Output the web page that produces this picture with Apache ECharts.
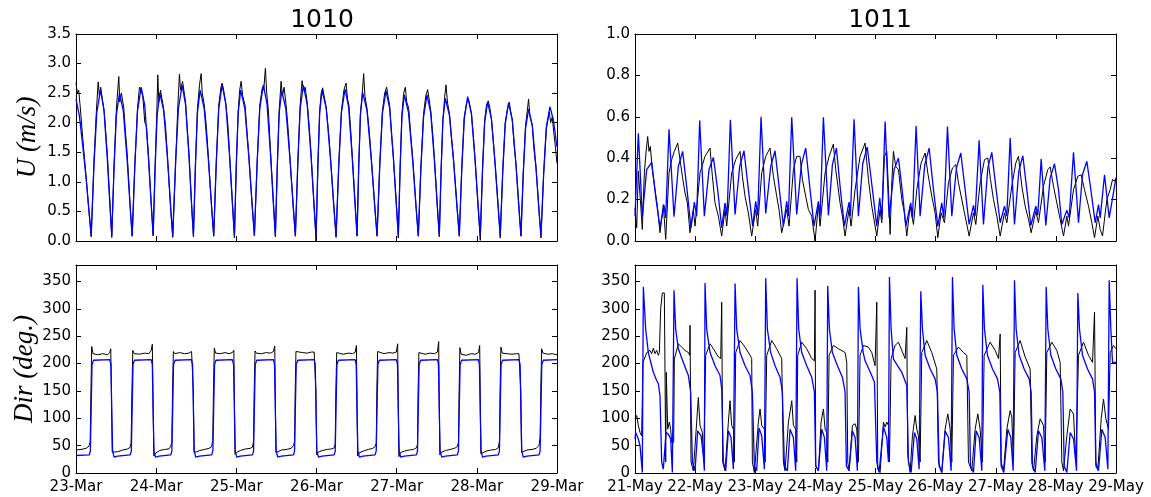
<!DOCTYPE html>
<html>
<head>
<meta charset="utf-8">
<script src="https://cdn.jsdelivr.net/npm/echarts@6/dist/echarts.min.js"></script>
<style>html,body{margin:0;padding:0;background:#fff}#c{width:1151px;height:497px}</style>
</head>
<body>
<div id="c"></div>
<script>
// ---------- tick labels ----------
var ticksMar = ['23-Mar','24-Mar','25-Mar','26-Mar','27-Mar','28-Mar','29-Mar'];
var ticksMay = ['21-May','22-May','23-May','24-May','25-May','26-May','27-May','28-May','29-May'];
var panelTitles = ['1010', '1011'];

// ---------- station 1010 : speed (hours since 23-Mar 00:00, m/s) ----------
var u1010Obs = [
[0,2.68],[0.4,2.50],[0.8,2.55],[1.3,2.25],[2.0,1.75],[3.0,1.1],[3.8,0.55],[4.55,0.07],
[5.38,1.35],[6.1,2.2],[6.64,2.69],[7.0,2.45],[7.4,2.6],[8.0,2.35],[8.5,2.15],[9.4,1.45],[10.2,0.6],[10.71,0.06],
[11.4,1.3],[12.1,2.25],[12.81,2.78],[13.1,2.35],[13.6,2.5],[14.3,2.25],[14.8,1.85],[15.3,1.5],[16.3,0.5],[16.82,0.08],
[17.63,1.3],[18.43,2.25],[19.0,2.60],[19.5,2.55],[20.0,2.45],[20.6,2.0],[21.1,1.95],[21.7,1.45],[22.56,0.6],[23.10,0.09],
[23.7,1.3],[24.2,2.2],[24.48,2.81],[24.8,2.35],[25.3,2.55],[26.2,2.25],[26.8,1.95],[27.4,1.4],[28.38,0.5],[28.96,0.06],
[29.81,1.3],[30.5,2.3],[30.97,2.82],[31.3,2.55],[31.9,2.7],[32.8,2.35],[33.3,1.9],[33.8,1.5],[34.65,0.55],[35.16,0.07],
[35.76,1.3],[36.36,2.25],[37.0,2.65],[37.46,2.83],[37.8,2.5],[38.4,2.3],[39.0,1.95],[39.6,1.45],[40.62,0.55],[41.23,0.08],
[41.99,1.32],[42.74,2.3],[43.4,2.6],[43.75,2.67],[44.2,2.55],[44.9,2.3],[45.5,1.95],[46.0,1.45],[46.88,0.6],[47.43,0.05],
[47.99,1.3],[48.56,2.2],[49.0,2.55],[49.43,2.70],[49.9,2.45],[50.6,2.3],[51.2,1.85],[51.8,1.4],[52.8,0.55],[53.41,0.09],
[54.22,1.3],[55.02,2.3],[55.8,2.6],[56.2,2.55],[56.70,2.92],[57.1,2.5],[57.6,2.2],[58.25,1.5],[59.15,0.6],[59.69,0.07],
[60.26,1.25],[60.82,2.2],[61.40,2.70],[61.8,2.45],[62.3,2.6],[62.9,2.3],[63.5,1.9],[64.0,1.45],[65.07,0.55],[65.68,0.08],
[66.4,1.3],[67.11,2.3],[67.68,2.71],[68.1,2.55],[68.6,2.6],[69.2,2.35],[69.8,1.95],[70.35,1.5],[71.3,0.55],[71.87,0.0],
[72.41,1.25],[72.95,2.2],[73.4,2.5],[73.85,2.59],[74.3,2.45],[74.9,2.25],[75.6,1.85],[76.2,1.4],[77.23,0.55],[77.86,0.06],
[78.67,1.3],[79.47,2.2],[80.2,2.55],[80.85,2.67],[81.3,2.4],[81.7,2.3],[82.2,1.9],[82.7,1.45],[83.6,0.6],[84.14,0.08],
[84.64,1.25],[85.15,2.15],[85.7,2.5],[86.12,2.83],[86.5,2.45],[87.1,2.25],[87.8,1.85],[88.4,1.4],[89.49,0.55],[90.13,0.08],
[90.94,1.3],[91.74,2.2],[92.4,2.5],[93.0,2.60],[93.4,2.45],[93.9,2.3],[94.4,1.85],[95.03,1.4],[95.95,0.6],[96.50,0.05],
[97.04,1.25],[97.57,2.15],[98.1,2.5],[98.59,2.60],[99.0,2.35],[99.6,2.25],[100.2,1.8],[100.8,1.4],[101.85,0.55],[102.48,0.08],
[103.26,1.25],[104.05,2.15],[104.7,2.45],[105.27,2.56],[105.7,2.4],[106.2,2.2],[106.8,1.8],[107.3,1.4],[108.22,0.55],[108.77,0.07],
[109.31,1.2],[109.84,2.05],[110.4,2.45],[110.77,2.64],[111.2,2.35],[111.8,2.15],[112.4,1.75],[113.07,1.35],[114.12,0.55],[114.75,0.08],
[115.5,1.25],[116.24,2.1],[117.0,2.35],[117.53,2.40],[117.9,2.3],[118.4,2.15],[119.0,1.75],[119.51,1.35],[120.46,0.5],[121.03,0.01],
[121.69,1.2],[122.34,2.05],[122.9,2.3],[123.43,2.37],[123.9,2.25],[124.4,2.05],[125.0,1.65],[125.49,1.3],[126.44,0.55],[127.01,0.05],
[127.76,1.2],[128.5,2.0],[129.2,2.25],[129.71,2.35],[130.1,2.2],[130.6,2.05],[131.2,1.6],[131.73,1.3],[132.65,0.55],[133.21,0.08],
[133.89,1.15],[134.58,1.95],[135.1,2.2],[135.49,2.40],[135.9,2.1],[136.6,1.95],[137.1,1.55],[137.72,1.25],[138.64,0.5],[139.20,0.05],
[140.01,1.15],[140.81,1.9],[141.3,2.05],[141.68,2.18],[142.1,2.0],[142.6,2.1],[143.0,1.85],[143.5,1.6],[144,1.31]
];
var u1010Model = [
[0,2.40],[1.0,2.12],[2.0,1.62],[3.0,1.08],[3.9,0.5],[4.55,0.09],
[5.38,1.28],[6.22,2.17],[7.33,2.55],[8.34,2.24],[9.36,1.40],[10.2,0.56],[10.71,0.09],
[11.40,1.25],[12.10,2.13],[13.02,2.50],[14.16,2.20],[15.30,1.38],[16.25,0.55],[16.82,0.09],
[17.63,1.30],[18.43,2.21],[19.51,2.60],[20.59,2.29],[21.66,1.43],[22.56,0.57],[23.10,0.09],
[23.70,1.25],[24.30,2.13],[25.10,2.50],[26.26,2.20],[27.42,1.38],[28.38,0.55],[28.96,0.09],
[29.81,1.32],[30.65,2.24],[31.78,2.63],[32.79,2.31],[33.81,1.45],[34.65,0.58],[35.16,0.09],
[35.76,1.28],[36.36,2.17],[37.16,2.55],[38.38,2.24],[39.60,1.40],[40.62,0.56],[41.23,0.09],
[41.99,1.32],[42.74,2.24],[43.75,2.64],[44.85,2.32],[45.96,1.45],[46.88,0.58],[47.43,0.09],
[47.99,1.28],[48.56,2.17],[49.31,2.55],[50.54,2.24],[51.77,1.40],[52.80,0.56],[53.41,0.09],
[54.22,1.32],[55.02,2.24],[56.10,2.64],[57.18,2.32],[58.25,1.45],[59.15,0.58],[59.69,0.09],
[60.26,1.27],[60.82,2.16],[61.58,2.54],[62.81,2.24],[64.04,1.40],[65.07,0.56],[65.68,0.09],
[66.40,1.32],[67.11,2.24],[68.07,2.63],[69.21,2.31],[70.35,1.45],[71.30,0.58],[71.87,0.09],
[72.41,1.28],[72.95,2.17],[73.67,2.55],[74.93,2.24],[76.18,1.40],[77.23,0.56],[77.86,0.09],
[78.67,1.29],[79.47,2.18],[80.55,2.57],[81.63,2.26],[82.70,1.41],[83.60,0.57],[84.14,0.09],
[84.64,1.26],[85.15,2.13],[85.82,2.51],[87.11,2.21],[88.41,1.38],[89.49,0.55],[90.13,0.09],
[90.94,1.27],[91.74,2.16],[92.82,2.54],[93.92,2.24],[95.03,1.40],[95.95,0.56],[96.50,0.09],
[97.04,1.24],[97.57,2.10],[98.29,2.47],[99.55,2.17],[100.80,1.36],[101.85,0.54],[102.48,0.09],
[103.26,1.24],[104.05,2.10],[105.09,2.47],[106.19,2.17],[107.30,1.36],[108.22,0.54],[108.77,0.09],
[109.31,1.21],[109.84,2.05],[110.56,2.41],[111.82,2.12],[113.07,1.33],[114.12,0.53],[114.75,0.09],
[115.50,1.22],[116.24,2.07],[117.24,2.44],[118.38,2.15],[119.51,1.34],[120.46,0.54],[121.03,0.09],
[121.69,1.18],[122.34,2.00],[123.22,2.35],[124.36,2.07],[125.49,1.29],[126.44,0.52],[127.01,0.09],
[127.76,1.17],[128.50,1.98],[129.50,2.33],[130.61,2.05],[131.73,1.28],[132.65,0.51],[133.21,0.09],
[133.89,1.12],[134.58,1.90],[135.49,2.23],[136.60,1.96],[137.72,1.23],[138.64,0.49],[139.20,0.09],
[140.01,1.14],[140.81,1.93],[141.89,2.27],[142.9,2.05],[144,1.59]
];

// ---------- station 1010 : direction (deg) ----------
var dir1010Obs = [
[0,42],[1.5,43],[3.0,45],[3.9,49],[4.25,57],[4.45,140],[4.7,231],[5.1,218],[6.5,216],[8.0,218],[9.4,216],[10.1,220],[10.4,227],[10.6,150],[10.85,38],[11.3,35],[12.5,39],[14.0,42],[15.5,44],[16.2,47],[16.5,55],[16.75,150],
[17.0,224],[17.4,218],[19.0,217],[20.5,219],[21.8,218],[22.5,224],[22.85,235],[23.05,140],[23.3,31],[23.8,36],[25.0,41],[26.5,43],[27.8,44],[28.4,49],[28.7,58],[28.9,150],
[29.15,222],[29.6,218],[31.0,220],[32.5,218],[33.8,219],[34.6,222],[35.0,225],[35.12,150],[35.35,37],[35.9,37],[37.0,41],[38.5,43],[39.8,45],[40.6,48],[40.95,60],[41.15,150],
[41.4,228],[41.8,219],[43.2,218],[44.6,220],[45.8,218],[46.8,220],[47.25,224],[47.4,150],[47.6,34],[48.1,38],[49.2,41],[50.8,44],[52.1,45],[52.8,47],[53.15,57],[53.35,150],
[53.6,223],[54.0,219],[55.5,218],[57.0,220],[58.3,219],[59.1,222],[59.5,232],[59.65,150],[59.85,37],[60.4,40],[61.5,42],[63.0,43],[64.4,45],[65.1,50],[65.45,57],[65.62,150],
[65.85,222],[66.3,219],[67.8,220],[69.2,219],[70.5,221],[71.3,221],[71.7,224],[71.83,150],[72.05,33],[72.5,38],[73.7,41],[75.2,43],[76.5,44],[77.3,46],[77.6,53],[77.8,150],
[78.05,220],[78.5,218],[80.0,217],[81.5,219],[82.8,218],[83.6,221],[83.95,233],[84.1,150],[84.3,31],[84.8,37],[86.0,40],[87.5,43],[88.8,45],[89.5,48],[89.9,55],[90.07,150],
[90.3,222],[90.75,220],[92.2,218],[93.7,220],[94.9,219],[95.9,221],[96.3,236],[96.45,150],[96.65,30],[97.1,37],[98.3,40],[99.8,42],[101.0,43],[101.9,46],[102.25,52],[102.42,150],
[102.65,220],[103.1,218],[104.6,217],[106.0,219],[107.3,218],[108.2,221],[108.58,240],[108.72,150],[108.92,33],[109.4,38],[110.6,41],[112.0,43],[113.3,45],[114.15,48],[114.5,56],[114.7,150],
[114.92,229],[115.3,217],[116.8,215],[118.3,218],[119.5,217],[120.5,220],[120.85,233],[121.0,150],[121.2,35],[121.7,38],[122.8,40],[124.3,42],[125.6,43],[126.4,46],[126.78,58],[126.96,150],
[127.2,230],[127.6,219],[129.0,218],[130.5,217],[131.8,218],[132.6,218],[133.0,219],[133.16,150],[133.38,38],[133.9,40],[135.0,42],[136.5,43],[137.8,45],[138.6,50],[138.95,65],[139.15,150],
[139.4,227],[139.8,219],[141.2,217],[142.6,218],[144,216]
];
var dir1010Model = [
[0,32],[3.95,33],[4.3,40],[4.55,120],[4.8,198],[5.25,206],
[10.1,207],[10.46,198],[10.71,110],[10.96,40],[11.4,29],[12.5,31],
[16.2,33],[16.57,40],[16.82,120],[17.07,198],[17.5,206],
[22.5,207],[22.85,198],[23.1,110],[23.35,40],[23.8,29],[24.9,31],
[28.35,33],[28.7,40],[28.96,120],[29.2,198],[29.65,206],
[34.55,207],[34.9,198],[35.16,110],[35.4,40],[35.85,29],[37,31],
[40.6,33],[40.98,40],[41.23,120],[41.48,198],[41.9,206],
[46.8,207],[47.18,198],[47.43,110],[47.68,40],[48.1,29],[49.2,31],
[52.8,33],[53.16,40],[53.41,120],[53.66,198],[54.1,206],
[59.1,207],[59.44,198],[59.69,110],[59.94,40],[60.4,29],[61.5,31],
[65.1,33],[65.43,40],[65.68,120],[65.93,198],[66.4,206],
[71.3,207],[71.62,198],[71.87,110],[72.12,40],[72.6,29],[73.7,31],
[77.3,33],[77.61,40],[77.86,120],[78.11,198],[78.55,206],
[83.55,207],[83.89,198],[84.14,110],[84.39,40],[84.85,29],[85.9,31],
[89.5,33],[89.88,40],[90.13,120],[90.38,198],[90.8,206],
[95.9,207],[96.25,198],[96.5,110],[96.75,40],[97.2,29],[98.3,31],
[101.9,33],[102.23,40],[102.48,120],[102.73,198],[103.2,206],
[108.2,207],[108.52,198],[108.77,110],[109.02,40],[109.5,29],[110.6,31],
[114.15,33],[114.5,40],[114.75,120],[115.0,198],[115.45,206],
[120.45,207],[120.78,198],[121.03,110],[121.28,40],[121.7,29],[122.8,31],
[126.4,33],[126.76,40],[127.01,120],[127.26,198],[127.7,206],
[132.6,207],[132.96,198],[133.21,110],[133.46,40],[133.9,29],[135,31],
[138.6,33],[138.95,40],[139.2,120],[139.45,198],[139.9,206],[144,207]
];

// ---------- station 1011 : speed (hours since 21-May 00:00, m/s) ----------
var u1011Obs = [
[0,0.16],[0.67,0.064],[1.33,0.337],[2.13,0.2],[2.93,0.056],[3.73,0.329],[4.39,0.425],[5.06,0.505],[5.59,0.433],[6.12,0.457],[6.92,0.345],[7.99,0.248],[8.92,0.168],[9.98,0.04],
[11.31,0.176],[12.25,0.008],[13.58,0.329],[14.64,0.393],[15.71,0.433],[17.04,0.473],[17.97,0.393],[18.9,0.313],[19.97,0.232],[20.9,0.184],[21.96,0.04],
[23.29,0.152],[23.96,0.072],[25.95,0.329],[27.95,0.409],[29.95,0.449],[30.88,0.313],[31.94,0.184],[33.27,0.12],[34.6,0.024],
[35.94,0.152],[36.6,0.072],[38.6,0.329],[40.2,0.393],[41.93,0.433],[42.86,0.313],[43.92,0.216],[45.25,0.136],[46.59,0.024],
[48.18,0.152],[48.98,0.072],[50.58,0.329],[52.18,0.409],[53.9,0.449],[55.24,0.313],[56.57,0.216],[57.5,0.152],[58.56,0.04],
[60.56,0.152],[61.49,0.072],[63.22,0.345],[64.55,0.409],[65.88,0.409],[66.82,0.297],[67.88,0.232],[69.21,0.152],[70.54,0.12],[71.87,0.0],
[73.2,0.176],[73.87,0.072],[75.87,0.329],[77.47,0.409],[79.19,0.468],[80.13,0.345],[81.86,0.184],[82.79,0.12],[83.85,0.024],
[85.45,0.152],[86.25,0.072],[87.85,0.248],[89.85,0.409],[91.84,0.473],[93.18,0.297],[94.51,0.168],[96.51,0.024],
[97.84,0.152],[98.5,0.088],[99.57,0.409],[100.5,0.433],[101.17,0.248],[101.83,0.032],[102.5,0.281],[103.16,0.433],[104.1,0.36],[105.16,0.345],[106.49,0.2],[107.56,0.136],[108.49,0.024],
[109.82,0.168],[111.15,0.08],[112.48,0.248],[114.21,0.377],[115.81,0.425],[116.87,0.329],[118.47,0.216],[119.8,0.136],[120.87,0.016],
[122.2,0.136],[123.53,0.088],[125.13,0.281],[126.72,0.353],[128.05,0.369],[129.12,0.281],[130.45,0.2],[131.78,0.12],[133.38,0.024],
[135.11,0.136],[136.04,0.08],[137.77,0.281],[139.5,0.393],[140.83,0.401],[141.9,0.297],[143.1,0.2],[144.43,0.12],[145.76,0.024],
[147.49,0.136],[148.42,0.088],[150.41,0.265],[152.01,0.377],[153.08,0.409],[154.41,0.265],[155.74,0.168],[157.07,0.104],[158.13,0.04],
[160.0,0.144],[161.06,0.088],[163.06,0.265],[164.79,0.345],[165.72,0.358],[167.05,0.265],[168.38,0.184],[169.72,0.104],[171.05,0.024],
[172.38,0.12],[173.05,0.072],[175.04,0.248],[176.77,0.313],[178.1,0.32],[179.43,0.248],[181.03,0.168],[182.36,0.088],[183.43,0.016],
[184.76,0.12],[185.69,0.056],[186.62,0.024],[188.35,0.2],[189.68,0.248],[190.61,0.297],[191.41,0.289],[192,0.305]
];
var u1011Model = [
[0,0.12],[1.33,0.52],[2.93,0.12],[4.66,0.345],[6.66,0.38],[8.25,0.216],[9.98,0.064],[11.58,0.173],[12.25,0.112],
[13.58,0.54],[15.57,0.117],[17.3,0.36],[19.03,0.433],[20.76,0.248],[22.36,0.064],[23.69,0.188],[24.62,0.12],
[25.82,0.582],[27.68,0.12],[29.55,0.345],[31.28,0.404],[33.0,0.248],[34.61,0.064],[35.94,0.184],[36.74,0.12],
[38.07,0.585],[39.94,0.128],[41.79,0.36],[43.52,0.436],[45.26,0.248],[46.98,0.072],[48.18,0.192],[48.98,0.124],
[50.31,0.60],[52.18,0.133],[54.17,0.36],[55.9,0.436],[57.63,0.248],[59.23,0.072],[60.56,0.192],[61.23,0.12],
[62.56,0.598],[64.55,0.128],[66.42,0.369],[68.15,0.449],[69.88,0.248],[71.47,0.072],[73.2,0.192],[73.87,0.12],
[75.2,0.598],[77.2,0.124],[78.8,0.369],[80.39,0.449],[81.99,0.248],[83.59,0.072],[85.45,0.188],[85.98,0.12],
[87.45,0.588],[89.18,0.12],[90.91,0.373],[92.7,0.454],[94.78,0.248],[96.51,0.072],[97.71,0.208],[98.51,0.104],
[99.84,0.577],[101.43,0.112],[103.43,0.345],[105.16,0.401],[106.62,0.248],[108.09,0.072],[110.08,0.184],[110.75,0.112],
[112.21,0.556],[113.81,0.12],[115.67,0.369],[117.41,0.449],[119.14,0.248],[120.87,0.072],[122.46,0.184],[123.26,0.112],
[124.73,0.553],[126.46,0.12],[128.32,0.353],[130.05,0.425],[131.78,0.248],[133.38,0.08],[135.11,0.172],[135.77,0.12],
[137.37,0.486],[139.1,0.08],[140.83,0.353],[142.43,0.428],[144.16,0.248],[145.76,0.088],[147.49,0.168],[148.42,0.12],
[149.75,0.497],[151.48,0.08],[153.21,0.337],[154.81,0.412],[156.4,0.248],[158.0,0.075],[160.0,0.168],[160.8,0.124],
[162.13,0.396],[163.99,0.075],[165.72,0.305],[167.45,0.373],[169.05,0.248],[170.38,0.08],[172.38,0.149],[173.31,0.112],
[175.04,0.428],[177.03,0.088],[178.63,0.32],[180.36,0.385],[181.96,0.248],[183.69,0.088],[185.02,0.176],[185.69,0.112],
[187.42,0.32],[189.28,0.112],[192,0.305]
];

// ---------- station 1011 : direction (deg) ----------
var dir1011Obs = [
[0,99],[0.67,105],[1.33,87],[2.0,74],[2.66,68],[3.06,68],[3.19,202],[3.73,208],[4.66,220],[5.99,224],[6.66,218],[7.32,228],[7.99,218],[8.65,224],[9.32,215],[9.72,220],
[10.25,300],[10.91,329],[11.71,329],[11.98,184],[12.25,20],[12.51,184],[13.04,80],[13.71,93],[14.24,80],[14.64,56],[15.44,56],
[15.71,208],[17.3,236],[18.63,230],[19.97,224],[21.3,220],[21.83,215],[21.96,270],[22.36,20],
[23.29,4],[24.62,93],[25.29,138],[25.95,87],[26.89,74],[27.42,20],[27.82,20],
[28.22,215],[29.95,236],[31.28,227],[33.28,212],[34.21,209],[34.61,312],[35.01,20],
[35.94,4],[37.27,93],[37.93,132],[38.6,87],[39.27,80],[39.66,20],
[40.2,220],[41.93,242],[43.93,230],[45.92,215],[46.59,209],[46.85,20],
[47.65,1],[49.25,93],[49.92,117],[50.58,87],[51.65,80],[51.92,20],
[52.58,215],[54.58,242],[56.57,227],[58.57,209],[59.23,20],
[59.9,4],[61.24,93],[62.57,132],[63.23,87],[64.16,80],[64.56,20],
[64.96,215],[66.56,239],[68.55,227],[70.55,209],[71.61,205],[71.88,334],[72.14,13],
[73.22,4],[74.28,93],[75.21,117],[75.88,80],[76.54,74],[76.94,20],
[77.47,215],[79.2,233],[81.2,227],[83.87,220],[84.53,202],[84.93,20],
[85.45,4],[86.78,87],[87.86,90],[88.52,80],[89.19,20],
[89.85,215],[91.18,233],[91.85,236],[93.18,230],[94.51,220],[95.84,196],[96.51,312],[96.91,7],
[97.84,1],[99.17,93],[99.84,84],[100.5,93],[101.17,87],[101.57,20],
[102.23,209],[103.83,233],[105.16,239],[106.49,224],[107.82,209],[108.49,266],[108.89,32],
[109.82,1],[110.75,68],[111.82,105],[112.48,80],[113.15,68],[113.81,20],
[114.48,220],[116.47,242],[118.47,220],[120.47,190],[121.13,20],
[122.46,1],[123.79,80],[124.86,108],[125.79,80],[126.46,20],
[127.12,215],[129.12,230],[131.12,220],[132.45,215],[133.11,20],
[134.44,4],[135.77,80],[136.84,108],[137.77,80],[138.7,20],
[139.37,215],[141.76,239],[143.76,224],[145.09,209],[145.76,254],[146.15,20],
[147.09,4],[148.42,80],[149.75,114],[150.41,102],[151.08,20],
[151.75,220],[153.74,242],[155.74,212],[157.73,190],[158.4,20],
[159.07,4],[160.4,68],[161.73,99],[163.06,87],[163.72,20],
[164.39,220],[166.39,239],[168.38,224],[169.72,202],[170.38,20],
[171.05,4],[172.38,68],[173.71,117],[175.04,108],[175.97,20],
[177.03,215],[179.03,239],[181.03,215],[182.62,202],[183.43,294],[183.96,20],
[184.76,7],[186.09,99],[187.02,135],[187.95,99],[189.01,80],
[189.68,220],[191.01,233],[192,227]
];
var dir1011Model = [
[0,62],[0.27,74],[1.33,62],[2.0,50],[2.93,1],
[3.33,340],[4.26,263],[5.32,220],[7.32,184],[8.65,169],[9.32,163],[9.98,141],[10.65,20],[11.31,7],[11.98,4],
[12.38,74],[13.31,71],[14.24,62],[14.91,1],
[15.57,334],[16.24,263],[17.3,227],[19.3,202],[21.3,178],[22.23,148],[22.9,20],[23.96,4],
[25.02,77],[26.35,68],[27.29,32],[27.69,4],
[27.95,347],[28.62,263],[29.95,220],[31.95,196],[33.94,178],[34.61,154],[35.27,20],[36.2,4],
[37.27,77],[38.33,65],[39.27,7],
[39.94,346],[40.6,263],[41.93,220],[43.93,196],[45.92,178],[46.85,148],[47.65,13],[48.58,4],
[49.52,82],[50.58,68],[51.65,7],
[52.18,356],[52.84,263],[54.17,220],[55.9,196],[57.9,175],[58.83,148],[59.63,13],[60.83,4],
[61.89,80],[63.22,65],[64.15,4],
[64.69,356],[65.35,263],[66.55,220],[68.55,196],[70.54,175],[71.6,148],[72.14,13],[73.2,4],
[74.54,80],[75.6,65],[76.53,4],
[76.93,342],[77.6,263],[78.8,220],[80.8,196],[82.79,175],[83.85,148],[84.38,13],[85.45,4],
[86.78,77],[87.85,65],[88.78,4],
[89.18,340],[89.85,263],[91.18,218],[91.85,205],[94.51,178],[95.58,166],[96.51,20],[97.44,1],
[99.17,84],[100.5,65],[101.17,20],
[101.57,358],[102.23,263],[103.16,208],[106.49,184],[108.49,160],[109.15,20],[110.22,1],
[111.55,74],[112.48,62],[113.41,7],
[114.08,332],[114.74,263],[115.81,215],[117.81,190],[119.8,172],[120.73,148],[121.4,13],[122.46,1],
[123.79,77],[125.13,65],[126.19,4],
[126.72,358],[127.39,263],[128.45,215],[130.45,190],[132.45,172],[133.38,148],[133.91,13],[135.11,1],
[136.17,77],[137.37,65],[138.44,4],
[138.83,344],[139.5,263],[140.7,215],[142.7,190],[144.69,172],[145.62,148],[146.15,13],[147.22,1],
[148.82,80],[150.02,65],[150.95,4],
[151.48,352],[152.14,263],[153.34,215],[155.34,190],[157.33,172],[158.13,148],[158.67,13],[159.73,1],
[161.06,77],[162.39,65],[163.59,4],
[164.13,340],[164.79,263],[165.99,215],[167.98,190],[169.98,172],[170.78,148],[171.31,13],[172.38,1],
[173.71,74],[175.04,62],[176.24,4],
[176.77,329],[177.43,263],[178.63,215],[180.63,190],[182.62,172],[183.43,148],[183.96,13],[185.02,4],
[186.35,80],[187.68,65],[188.75,7],
[189.28,352],[189.94,263],[190.61,202],[192,202]
];

// ---------- chart ----------
var chart = echarts.init(document.getElementById('c'), null, {renderer: 'canvas'});
var FONT = 'DejaVu Sans';
var grids = [
  {left: 76, top: 34, width: 481, height: 207},
  {left: 76, top: 265, width: 481, height: 208},
  {left: 635, top: 34, width: 481, height: 207},
  {left: 635, top: 265, width: 481, height: 208}
];
function xAx(g, max, labels, showLabels, pos) {
  return {
    type: 'value', gridIndex: g, min: 0, max: max, interval: 24, position: pos,
    axisLine: {show: true, onZero: false, lineStyle: {color: '#000', width: 1}},
    axisTick: {show: true, inside: true, length: 5, lineStyle: {color: '#000'}},
    axisLabel: {show: showLabels, color: '#000', fontFamily: FONT, fontSize: 15, margin: 7,
      formatter: function (v) { return labels[Math.round(v / 24)] || ''; }},
    splitLine: {show: false}
  };
}
function yAx(g, max, interval, digits, pos, showLabels, showMax, name) {
  return {
    type: 'value', gridIndex: g, min: 0, max: max, interval: interval, position: pos,
    name: name || '', nameLocation: 'middle', nameRotate: 90, nameGap: 35,
    nameTextStyle: {fontFamily: 'Liberation Serif', fontStyle: 'italic', fontSize: 27, color: '#000'},
    axisLine: {show: true, onZero: false, lineStyle: {color: '#000', width: 1}},
    axisTick: {show: true, inside: true, length: 5, lineStyle: {color: '#000'}},
    axisLabel: {show: showLabels, color: '#000', fontFamily: FONT, fontSize: 15, margin: 5, showMaxLabel: showMax,
      formatter: function (v) { return v.toFixed(digits); }},
    splitLine: {show: false}
  };
}
var xAxes = [
  xAx(0, 144, ticksMar, false, 'bottom'), xAx(0, 144, ticksMar, false, 'top'),
  xAx(1, 144, ticksMar, true, 'bottom'),  xAx(1, 144, ticksMar, false, 'top'),
  xAx(2, 192, ticksMay, false, 'bottom'), xAx(2, 192, ticksMay, false, 'top'),
  xAx(3, 192, ticksMay, true, 'bottom'),  xAx(3, 192, ticksMay, false, 'top')
];
var yAxes = [
  yAx(0, 3.5, 0.5, 1, 'left', true, true, 'U (m/s)'), yAx(0, 3.5, 0.5, 1, 'right', false, true),
  yAx(1, 380, 50, 0, 'left', true, false, 'Dir (deg.)'), yAx(1, 380, 50, 0, 'right', false, false),
  yAx(2, 1.0, 0.2, 1, 'left', true, true), yAx(2, 1.0, 0.2, 1, 'right', false, true),
  yAx(3, 380, 50, 0, 'left', true, false), yAx(3, 380, 50, 0, 'right', false, false)
];
function line(data, ax, color, w) {
  return {type: 'line', data: data, xAxisIndex: ax, yAxisIndex: ax, showSymbol: false, symbol: 'none',
    lineStyle: {color: color, width: w}, itemStyle: {color: color}, animation: false, silent: true, z: color === '#0000ff' ? 3 : 2};
}
chart.setOption({
  animation: false,
  backgroundColor: '#fff',
  title: [
    {text: panelTitles[0], left: 317, top: 3, textAlign: 'center', textStyle: {fontFamily: FONT, fontSize: 25, fontWeight: 'normal', color: '#000'}},
    {text: panelTitles[1], left: 875, top: 3, textAlign: 'center', textStyle: {fontFamily: FONT, fontSize: 25, fontWeight: 'normal', color: '#000'}}
  ],
  grid: grids,
  xAxis: xAxes,
  yAxis: yAxes,
  series: [
    line(u1010Obs, 0, '#000000', 1), line(u1010Model, 0, '#0000ff', 1.3),
    line(dir1010Obs, 2, '#000000', 1), line(dir1010Model, 2, '#0000ff', 1.3),
    line(u1011Obs, 4, '#000000', 1), line(u1011Model, 4, '#0000ff', 1.3),
    line(dir1011Obs, 6, '#000000', 1), line(dir1011Model, 6, '#0000ff', 1.3)
  ]
});
</script>
</body>
</html>
